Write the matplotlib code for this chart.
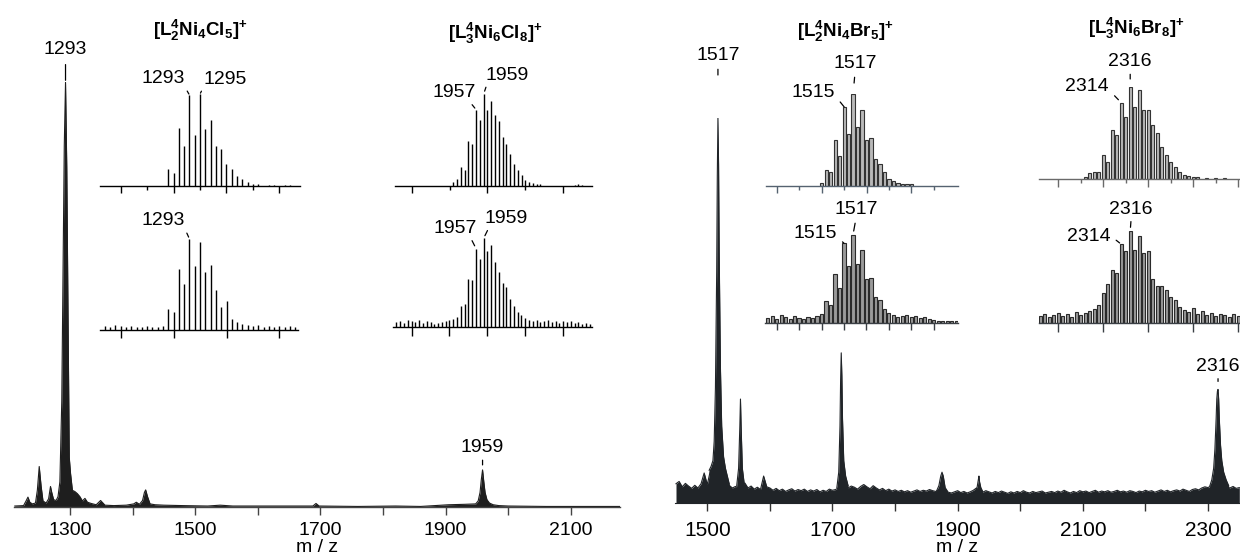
import numpy as np
import matplotlib
matplotlib.use("Agg")
import matplotlib.pyplot as plt

plt.rcParams['font.family'] = ['Liberation Sans', 'DejaVu Sans']
plt.rcParams['mathtext.fontset'] = 'custom'
plt.rcParams['mathtext.rm'] = 'Liberation Sans'
plt.rcParams['mathtext.it'] = 'Liberation Sans:italic'
plt.rcParams['mathtext.bf'] = 'Liberation Sans:bold'

# ---------------- data ----------------
# Survey spectrum, chloride complex (relative intensity, %)
cl_mz = [1212, 1226, 1230, 1233, 1236, 1240, 1245, 1248, 1251, 1254, 1257, 1262, 1266,
         1269, 1271, 1274, 1278, 1281, 1284, 1287, 1289, 1291, 1293, 1295, 1297, 1299,
         1301, 1304, 1308, 1312, 1316, 1320, 1324, 1328, 1334, 1342, 1349, 1356, 1370,
         1390, 1402, 1406, 1411, 1416, 1419, 1421, 1424, 1428, 1436, 1450, 1480, 1520,
         1540, 1560, 1640, 1688, 1693, 1698, 1760, 1820, 1860, 1905, 1930, 1948, 1952,
         1955, 1957, 1959, 1961, 1963, 1966, 1970, 1976, 1985, 2000, 2060, 2178]
cl_int = [0.3, 0.4, 1.5, 2.4, 1.2, 0.8, 1.0, 4.0, 9.6, 5.0, 1.5, 1.0, 2.0,
          4.9, 3.5, 1.8, 1.6, 2.5, 6.0, 25, 55, 85, 100, 80, 45, 11.7,
          8.0, 4.0, 3.7, 3.2, 2.5, 1.5, 2.1, 1.2, 0.9, 0.6, 1.6, 0.5, 0.4,
          0.5, 0.8, 1.2, 0.7, 1.6, 3.5, 4.1, 2.5, 0.8, 0.6, 0.5, 0.4, 0.3,
          0.5, 0.3, 0.3, 0.3, 0.9, 0.3, 0.2, 0.3, 0.2, 0.6, 0.7, 0.8, 1.5,
          3.5, 6.5, 8.8, 6.0, 3.5, 1.8, 1.0, 0.6, 0.4, 0.3, 0.2, 0.2]

# Survey spectrum, bromide complex: baseline every 5 m/z from 1450 to 2350
br_base_mz = np.arange(1450, 2351, 5)
br_base_int = [5.0, 5.6, 4.2, 5.1, 4.4, 3.8, 4.6, 3.9, 5.0, 7.8, 4.8, 8.5, 9.0, 9.2, 9.4, 8.2, 6.5, 4.6, 3.9, 4.3,
               4.0, 4.6, 5.2, 3.9, 4.4, 3.6, 4.1, 3.5, 7.0, 4.2, 3.9, 3.3, 3.8, 3.2, 3.6, 3.0, 3.4, 3.7, 3.1, 3.5,
               3.2, 3.6, 3.0, 3.4, 3.1, 3.5, 2.9, 3.3, 3.0, 3.6, 3.3, 3.5, 4.0, 4.2, 4.6, 3.9, 4.4, 4.1, 3.6, 4.3,
               4.8, 4.2, 3.7, 4.5, 3.9, 3.4, 3.8, 3.2, 3.6, 3.1, 3.4, 3.0, 3.3, 2.9, 3.2, 2.8, 3.1, 3.4, 3.0, 3.3,
               3.1, 3.5, 3.2, 3.0, 3.4, 3.6, 3.1, 2.8, 2.6, 2.9, 3.2, 2.7, 3.0, 2.6, 2.9, 3.3, 3.9, 3.1, 2.8, 3.2,
               2.9, 2.6, 3.0, 2.7, 3.1, 2.8, 2.5, 2.9, 2.6, 3.0, 2.7, 3.2, 2.8, 2.6, 3.0, 2.7, 2.9, 3.1, 2.6, 2.8,
               3.0, 2.7, 3.1, 2.8, 3.3, 2.9, 2.6, 3.0, 2.7, 3.2, 2.9, 3.1, 2.7, 3.0, 3.3, 2.8, 3.1, 2.9, 3.2, 2.8,
               3.0, 3.3, 2.9, 3.1, 2.8, 3.2, 3.0, 2.7, 3.1, 2.9, 3.3, 3.0, 3.2, 2.8, 3.1, 3.4, 3.0, 3.3, 2.9, 3.2,
               3.4, 3.1, 3.6, 3.3, 3.0, 3.5, 3.7, 3.4, 3.9, 4.2, 4.0, 4.5, 5.0, 6.0, 5.5, 4.8, 4.2, 3.9, 4.3, 3.8,
               4.0]
br_p1517_mz = [1503, 1506, 1509, 1511, 1513, 1515, 1516, 1517, 1518, 1519, 1521, 1523, 1526, 1529, 1532, 1535]
br_p1517_int = [8.5, 9.5, 11, 16, 30, 60, 85, 100, 88, 65, 35, 20, 12, 9, 7, 5]
br_p1553_mz = [1547, 1550, 1552, 1553, 1554, 1556, 1559]
br_p1553_int = [4.5, 9, 20, 27, 20, 9, 5]
br_p1714_mz = [1707, 1710, 1712, 1713, 1714, 1715, 1716, 1718, 1721, 1725]
br_p1714_int = [4, 8, 20, 32, 39, 33, 22, 11, 7, 4.5]
br_p1875_mz = [1866, 1870, 1873, 1875, 1877, 1880, 1884]
br_p1875_int = [3, 4.5, 7, 8, 7, 4, 3]
br_p1934_mz = [1928, 1931, 1933, 1934, 1935, 1937, 1940]
br_p1934_int = [3, 4, 6, 7, 5.5, 4, 3]
br_p2316_mz = [2303, 2306, 2309, 2311, 2313, 2314, 2315, 2316, 2317, 2318, 2320, 2322, 2325, 2329, 2333]
br_p2316_int = [4.5, 6, 9, 14, 22, 27, 29, 29.5, 27, 22, 15, 11, 8, 6, 4.5]

# Isotope patterns: [L2Ni4Cl5]+
cl5_calc_mz = [1289, 1290, 1291, 1292, 1293, 1294, 1295, 1296, 1297, 1298, 1299, 1300, 1301,
               1302, 1303, 1304, 1305, 1306, 1308, 1309, 1311, 1312]
cl5_calc_int = [18, 14, 63, 43, 99, 55, 100, 62, 72, 43, 40, 24, 18,
                11, 8, 4, 2, 2, 1, 1, 1, 1]
cl5_exp_mz = list(range(1277, 1314))
cl5_exp_int = [4, 3, 5, 4, 3, 4, 3, 3, 4, 3, 3, 4, 23, 20, 66, 50, 99, 70, 96, 63, 71, 43,
               25, 32, 12, 9, 6, 5, 4, 5, 3, 4, 3, 4, 3, 4, 3]

# [L3Ni6Cl8]+
cl8_calc_mz = [1951, 1952, 1953, 1954, 1955, 1956, 1957, 1958, 1959, 1960, 1961, 1962, 1963,
               1964, 1965, 1966, 1967, 1968, 1969, 1970, 1971, 1972, 1973, 1974, 1983, 1984, 1985]
cl8_calc_int = [4, 8, 21, 17, 49, 46, 83, 72, 100, 83, 92, 77, 71,
                53, 46, 35, 24, 17, 12, 7, 4, 3, 2, 2, 1, 2, 1]
cl8_exp_mz = list(range(1936, 1988))
cl8_exp_int = [5, 6, 4, 7, 6, 5, 7, 4, 6, 5, 3, 4, 5, 6, 7, 8, 11, 22, 25, 52, 51, 85, 74, 96,
               82, 89, 70, 60, 48, 43, 30, 23, 16, 13, 9, 7, 6, 7, 5, 6, 7, 5, 6, 4, 6, 5,
               6, 4, 5, 3, 4, 3]

# [L2Ni4Br5]+
br5_calc_mz = [1510, 1511, 1512, 1513, 1514, 1515, 1516, 1517, 1518, 1519, 1520, 1521, 1522,
               1523, 1524, 1525, 1526, 1527, 1528, 1529, 1530]
br5_calc_int = [3, 17, 15, 50, 33, 86, 57, 100, 64, 83, 50, 52, 29,
                24, 15, 8, 5, 3, 2, 2, 2]
br5_exp_mz = list(range(1498, 1541))
br5_exp_int = [6, 8, 5, 9, 7, 5, 8, 6, 5, 7, 6, 8, 10, 24, 20, 54, 38, 87, 62, 96, 65, 80,
               48, 49, 29, 25, 16, 11, 9, 7, 8, 9, 7, 8, 6, 7, 5, 4, 3, 3, 2, 3, 2]

# [L3Ni6Br8]+
br8_calc_mz = [2306, 2307, 2308, 2309, 2310, 2311, 2312, 2313, 2314, 2315, 2316, 2317, 2318,
               2319, 2320, 2321, 2322, 2323, 2324, 2325, 2326, 2327, 2328, 2329, 2330, 2331,
               2333, 2335, 2337]
br8_calc_int = [2, 7, 8, 8, 26, 18, 53, 48, 83, 67, 100, 78, 97,
                75, 75, 59, 50, 35, 26, 18, 13, 8, 4, 3, 2, 2,
                1, 1, 1]
br8_exp_mz = list(range(2296, 2341))
br8_exp_int = [8, 10, 7, 9, 11, 8, 10, 7, 12, 9, 11, 13, 16, 20, 33, 43, 58, 55, 86, 79, 100,
               80, 95, 76, 79, 48, 41, 41, 36, 29, 25, 18, 14, 12, 17, 10, 13, 9, 11, 8, 10,
               9, 7, 10, 8]

for a, b in [(cl_mz, cl_int), (br_base_mz, br_base_int), (cl5_calc_mz, cl5_calc_int),
             (cl5_exp_mz, cl5_exp_int), (cl8_calc_mz, cl8_calc_int), (cl8_exp_mz, cl8_exp_int),
             (br5_calc_mz, br5_calc_int), (br5_exp_mz, br5_exp_int), (br8_calc_mz, br8_calc_int),
             (br8_exp_mz, br8_exp_int)]:
    assert len(a) == len(b), (len(a), len(b))

# ---------------- figure ----------------
W, H, DPI = 1240, 560, 100
fig = plt.figure(figsize=(W / DPI, H / DPI), dpi=DPI)
fig.patch.set_facecolor('white')
PT = 72.0 / DPI  # points per pixel


def px_axes(x0, x1, y_top, y_base, xlim):
    ax = fig.add_axes([x0 / W, 1 - y_base / H, (x1 - x0) / W, (y_base - y_top) / H])
    ax.set_xlim(*xlim)
    ax.set_ylim(0, 100)
    ax.patch.set_visible(False)
    for s in ('left', 'right', 'top'):
        ax.spines[s].set_visible(False)
    ax.set_yticks([])
    return ax


def inset_ticks(ax, major, minor, major_len, minor_len, color='k'):
    ax.set_xticks(major)
    ax.set_xticks(minor, minor=True)
    ax.tick_params(axis='x', which='major', direction='out', length=major_len * PT,
                   width=1.0, color=color, labelbottom=False)
    ax.tick_params(axis='x', which='minor', direction='out', length=minor_len * PT,
                   width=1.0, color=color)
    ax.spines['bottom'].set_color(color)
    ax.spines['bottom'].set_linewidth(1.0)


def peak_label(ax, mz, h, text, dx, dy, relpos=(0.5, 0), sa=1, sb=2, fs=14):
    ax.annotate(text, xy=(mz, h), xycoords='data', xytext=(dx, dy),
                textcoords='offset pixels', ha='center', va='center', fontsize=fs,
                annotation_clip=False,
                arrowprops=dict(arrowstyle='-', color='k', lw=0.9, relpos=relpos,
                                shrinkA=sa * PT, shrinkB=sb * PT))


def sticks(ax, mz, inten, color='k', lw=1.0):
    ax.vlines(mz, 0, inten, colors=color, lw=lw)


def bars(ax, mz, inten, face='#b9b9b9', edge='#333333'):
    ax.bar(mz, inten, width=0.72, color=face, edgecolor=edge, linewidth=0.8)


# ---- left survey spectrum ----
axL = px_axes(13.8, 620, 82.3, 507.3, (1210.4, 2178.5))
axL.fill_between(cl_mz, 0, cl_int, color='#1e1e1e', lw=0)
axL.plot(cl_mz, cl_int, color='#1e1e1e', lw=0.8)
axL.set_xticks(range(1300, 2101, 100))
axL.set_xticklabels(['1300', '', '1500', '', '1700', '', '1900', '', '2100'], fontsize=14)
axL.tick_params(axis='x', direction='out', length=8 * PT, width=1.0, color='#444444', pad=4.8)
axL.spines['bottom'].set_color('#444444')
axL.spines['bottom'].set_linewidth(1.0)
peak_label(axL, 1293, 100, '1293', 0, 33, sa=4, sb=2)
peak_label(axL, 1959, 8.8, '1959', 0, 22, sa=1, sb=5)
fig.text(317 / W, 1 - 548 / H, 'm / z', ha='center', va='center', fontsize=14)

# ---- right survey spectrum ----
axR = px_axes(675, 1240, 118, 503, (1448.4, 2351.1))
dark = '#202428'
axR.fill_between(br_base_mz, 0, br_base_int, color=dark, lw=0)
axR.plot(br_base_mz, br_base_int, color=dark, lw=0.8)
for pm, pi in [(br_p1517_mz, br_p1517_int), (br_p1553_mz, br_p1553_int),
               (br_p1714_mz, br_p1714_int), (br_p1875_mz, br_p1875_int),
               (br_p1934_mz, br_p1934_int), (br_p2316_mz, br_p2316_int)]:
    axR.fill_between(pm, 0, pi, color=dark, lw=0)
    axR.plot(pm, pi, color=dark, lw=0.8)
axR.set_xticks(range(1500, 2301, 100))
axR.set_xticklabels(['1500', '', '1700', '', '1900', '', '2100', '', '2300'], fontsize=15)
axR.tick_params(axis='x', direction='out', length=8 * PT, width=1.0, color='#333333', pad=7.5)
axR.spines['bottom'].set_color(dark)
peak_label(axR, 1517, 100, '1517', 0, 62, sa=2, sb=43)
peak_label(axR, 2316, 29.5, '2316', 0, 23, sa=1, sb=8)
fig.text(957 / W, 1 - 548 / H, 'm / z', ha='center', va='center', fontsize=14)

# ---- chloride isotope patterns ----
ax1 = px_axes(100, 300, 94, 186, (1276.1, 1313.9))
sticks(ax1, cl5_calc_mz, cl5_calc_int)
inset_ticks(ax1, [1280, 1290, 1300, 1310], [1285, 1295, 1305], 7, 4)
peak_label(ax1, 1293, 99, '1293', -26, 16, relpos=(1, 0), sa=1, sb=1)
peak_label(ax1, 1295, 100, '1295', 25, 15, relpos=(0, 0), sa=1, sb=1)

ax2 = px_axes(100, 298, 238, 330, (1276.1, 1313.5))
sticks(ax2, cl5_exp_mz, cl5_exp_int)
inset_ticks(ax2, [1280, 1290, 1300, 1310], [], 8, 0)
peak_label(ax2, 1293, 99, '1293', -26, 18, relpos=(1, 0), sa=1, sb=2)

ax3 = px_axes(395, 592, 94, 186, (1935.6, 1987.6))
sticks(ax3, cl8_calc_mz, cl8_calc_int)
inset_ticks(ax3, [1940, 1960, 1980], [1950, 1970], 7, 4)
peak_label(ax3, 1957, 83, '1957', -22, 17, relpos=(0.85, 0), sa=1, sb=2)
peak_label(ax3, 1959, 100, '1959', 23, 19, relpos=(0.05, 0), sa=1, sb=3)

ax4 = px_axes(393, 592, 234.7, 326.7, (1935.1, 1987.6))
sticks(ax4, cl8_exp_mz, cl8_exp_int)
inset_ticks(ax4, [1940, 1950, 1960, 1970, 1980], [], 9, 0)
peak_label(ax4, 1957, 85, '1957', -21, 20, relpos=(0.85, 0), sa=1, sb=3)
peak_label(ax4, 1959, 96, '1959', 23, 20, relpos=(0.1, 0), sa=1, sb=3)

# ---- bromide isotope patterns ----
ax5 = px_axes(765.7, 958, 94, 186, (1497.5, 1540.4))
bars(ax5, br5_calc_mz, br5_calc_int)
inset_ticks(ax5, [1500, 1510, 1520, 1530], [1505, 1515, 1525, 1535], 7, 4, color='#556270')
peak_label(ax5, 1517, 100, '1517', 2, 31, sa=3, sb=11)
peak_label(ax5, 1515, 86, '1515', -31, 14, relpos=(1, 0.35), sa=4, sb=7)

ax6 = px_axes(765, 958, 231.3, 323.3, (1497.4, 1540.4))
bars(ax6, br5_exp_mz, br5_exp_int, face='#9a9a9a', edge='#2a2a2a')
inset_ticks(ax6, list(range(1500, 1536, 5)), [], 7, 0, color='#3a3f45')
peak_label(ax6, 1517, 96, '1517', 3, 25, sa=2, sb=4)
peak_label(ax6, 1515, 87, '1515', -29, 10, relpos=(1, 0.3), sa=4, sb=3)

ax7 = px_axes(1039.3, 1240, 87, 179, (2295.8, 2340.4))
bars(ax7, br8_calc_mz, br8_calc_int)
inset_ticks(ax7, [2300, 2310, 2320, 2330, 2340], [2305, 2315, 2325, 2335], 8, 4, color='#6a6a6a')
peak_label(ax7, 2316, 100, '2316', 0, 26, sa=2, sb=8)
peak_label(ax7, 2314, 83, '2314', -34, 16, relpos=(1, 0.3), sa=4, sb=4)

ax8 = px_axes(1039.3, 1240, 231.3, 323.3, (2295.8, 2340.4))
bars(ax8, br8_exp_mz, br8_exp_int, face='#9a9a9a', edge='#2a2a2a')
inset_ticks(ax8, [2300, 2310, 2320, 2330, 2340], [], 9, 0, color='#3a3f45')
peak_label(ax8, 2316, 100, '2316', 1, 22, sa=1, sb=4)
peak_label(ax8, 2314, 86, '2314', -32, 8, relpos=(1, 0.5), sa=3, sb=2)

# ---- formula headings ----
fs_title = 13.5
fig.text(200 / W, 1 - 30 / H, r'$\mathbf{[L^{4}_{2}Ni_{4}Cl_{5}]^{+}}$', ha='center', va='center', fontsize=fs_title)
fig.text(495 / W, 1 - 33 / H, r'$\mathbf{[L^{4}_{3}Ni_{6}Cl_{8}]^{+}}$', ha='center', va='center', fontsize=fs_title)
fig.text(845 / W, 1 - 31.7 / H, r'$\mathbf{[L^{4}_{2}Ni_{4}Br_{5}]^{+}}$', ha='center', va='center', fontsize=fs_title)
fig.text(1136.7 / W, 1 - 28.3 / H, r'$\mathbf{[L^{4}_{3}Ni_{6}Br_{8}]^{+}}$', ha='center', va='center', fontsize=fs_title)

fig.savefig('out.png', dpi=DPI, facecolor='white')
